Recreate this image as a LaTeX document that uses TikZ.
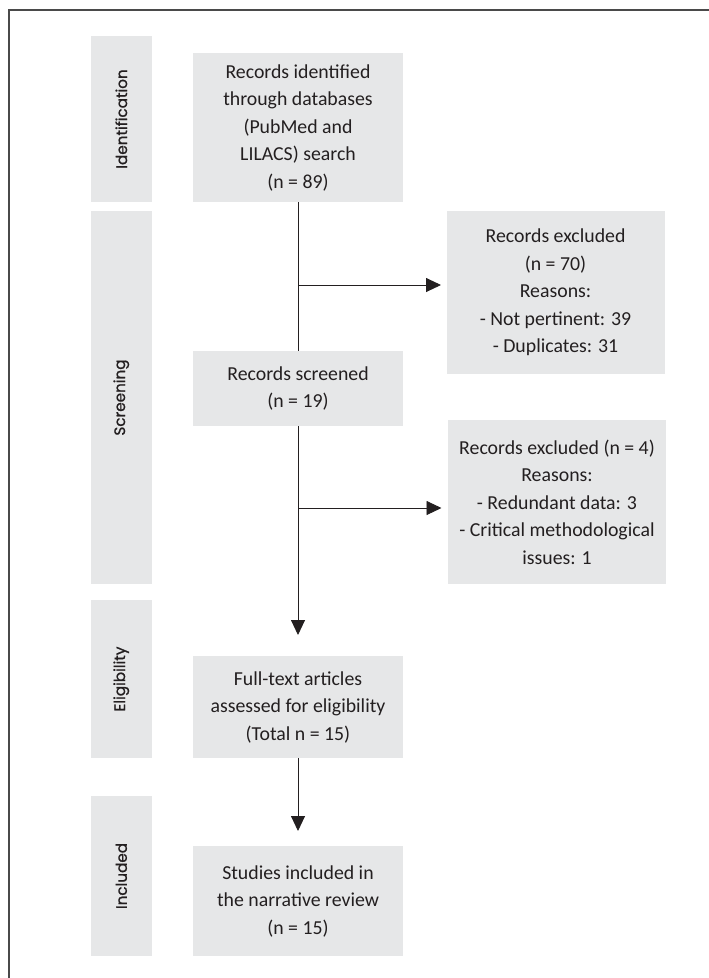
\documentclass[tikz,border=0pt]{standalone}
\usepackage{fontspec}
\usetikzlibrary{arrows.meta}
\newfontfamily\boxfont{Carlito}
\newfontfamily\labfont[FakeBold=1]{Poppins}
\definecolor{boxgray}{HTML}{E6E7E8}
\definecolor{inkc}{HTML}{231F20}
\definecolor{framec}{HTML}{4A4A4A}
\tikzset{
  box/.style={rectangle, fill=boxgray, inner sep=0pt, align=center, text=inkc,
    font=\boxfont\fontsize{19.8}{27.5}\selectfont},
  mainbox/.style={box, minimum width=210pt},
  sidebox/.style={box, minimum width=218pt},
  phase/.style={rectangle, fill=boxgray, inner sep=0pt, minimum width=61.6pt},
  phaselab/.style={rotate=90, text=inkc, inner sep=0pt, font=\labfont\fontsize{15.2}{17}\selectfont},
  conn/.style={draw=inkc, line width=0.9pt},
  arr/.style={conn, -{Triangle[length=15pt,width=14pt]}},
  frameline/.style={draw=framec, line width=1.3pt}
}
\begin{document}
\begin{tikzpicture}[x=1pt,y=-1pt]
\useasboundingbox (0,0) rectangle (709,978);
% frame
\coordinate (fr1) at (709,10);
\coordinate (fr2) at (9,10);
\coordinate (fr3) at (9,978);
\draw[frameline] (fr1) -- (fr2) -- (fr3);
% phase bars
\node[phase, minimum height=166pt] (pid) at (121.3,119) {};
\node[phaselab] (lid) at (pid.center) {Identification};
\node[phase, minimum height=373pt] (psc) at (121.3,397.5) {};
\node[phaselab] (lsc) at (psc.center) {Screening};
\node[phase, minimum height=158pt] (pel) at (121.3,679) {};
\node[phaselab] (lel) at (pel.center) {Eligibility};
\node[phase, minimum height=160pt] (pin) at (121.3,876) {};
\node[phaselab] (lin) at (pin.center) {Included};
% main boxes
\node[mainbox, minimum height=149pt] (b1) at (298,127.5) {Records identified\\through databases\\(PubMed and\\LILACS) search\\(n = 89)};
\node[mainbox, minimum height=75pt] (b2) at (298,388.5) {Records screened\\(n = 19)};
\node[mainbox, minimum height=102pt] (b3) at (298,707) {Full-text articles\\assessed for eligibility\\(Total n = 15)};
\node[mainbox, minimum height=110pt] (b4) at (298,901) {Studies included in\\the narrative review\\(n = 15)};
% side boxes
\node[sidebox, minimum height=163pt] (e1) at (555.5,292.5) {Records excluded\\(n = 70)\\Reasons:\\- Not pertinent: 39\\- Duplicates: 31};
\node[sidebox, minimum height=164pt] (e2) at (557,502) {Records excluded (n = 4)\\Reasons:\\- Redundant data: 3\\- Critical methodological\\issues: 1};
% connectors
\coordinate (j1) at (298,285);
\coordinate (t1) at (441,285);
\coordinate (j2) at (298,508);
\coordinate (t2) at (441.5,508);
\coordinate (t3) at (298,635);
\coordinate (t4) at (298,831);
\draw[conn] (b1.south) -- (b2.north);
\draw[arr] (j1) -- (t1);
\draw[arr] (b2.south) -- (t3);
\draw[arr] (j2) -- (t2);
\draw[arr] (b3.south) -- (t4);
\end{tikzpicture}
\end{document}
